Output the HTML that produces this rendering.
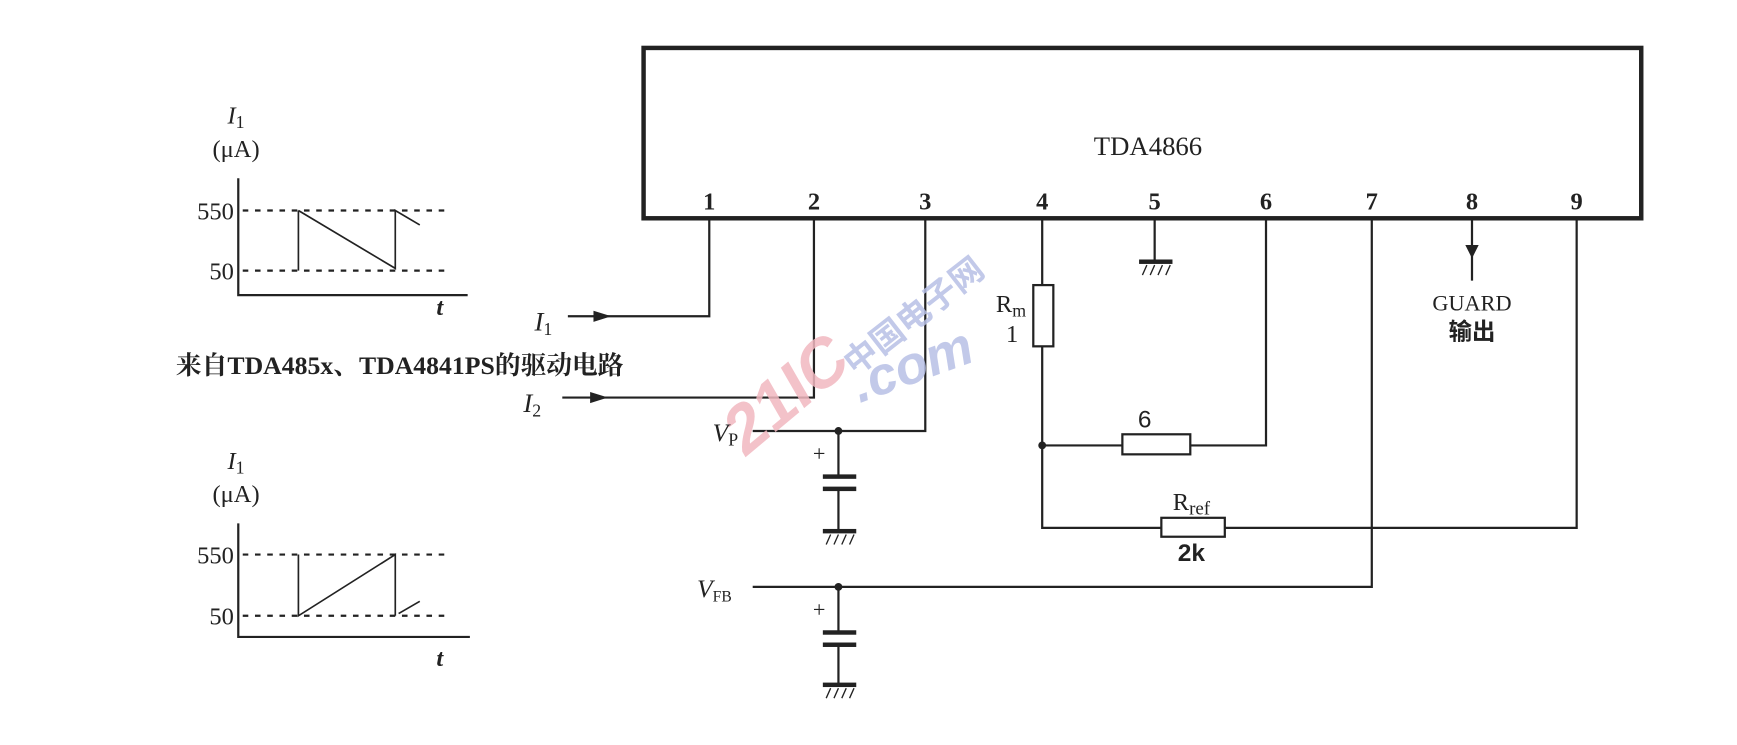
<!DOCTYPE html>
<html><head><meta charset="utf-8"><style>
html,body{margin:0;padding:0;background:#fff;}
svg{display:block}
text{font-family:"Liberation Serif","Noto Serif CJK SC",serif;fill:#222}
</style></head><body>
<svg width="1737" height="745" viewBox="0 0 1560 669" xmlns="http://www.w3.org/2000/svg">
<g stroke="#222" fill="none" stroke-width="2">
<rect x="578" y="43" width="896" height="153" stroke-width="4"/>
<polyline points="637,196 637,284 510,284"/>
<polyline points="731,196 731,357 505,357"/>
<polyline points="831,196 831,387 676,387"/>
<line x1="753" y1="387" x2="753" y2="428"/><line x1="753" y1="438" x2="753" y2="477"/>
<line x1="936" y1="196" x2="936" y2="256"/>
<rect x="928" y="256" width="18" height="55"/>
<polyline points="936,311 936,474 1043,474"/>
<line x1="936" y1="400" x2="1008" y2="400"/>
<rect x="1008" y="390" width="61" height="18"/>
<polyline points="1069,400 1137,400 1137,196"/>
<rect x="1043" y="465" width="57" height="17"/>
<polyline points="1100,474 1416,474 1416,196"/>
<line x1="1037" y1="196" x2="1037" y2="235"/>
<polyline points="1232,196 1232,527 676,527"/>
<line x1="753" y1="527" x2="753" y2="568"/><line x1="753" y1="578" x2="753" y2="615"/>
<line x1="1322" y1="196" x2="1322" y2="252"/>
<polyline points="214,160 214,265 420,265"/>
<polyline points="214,470 214,572 422,572"/>
<g stroke-dasharray="5,6">
<line x1="218" y1="189" x2="405" y2="189"/><line x1="218" y1="243" x2="405" y2="243"/>
<line x1="218" y1="498" x2="405" y2="498"/><line x1="218" y1="553" x2="405" y2="553"/>
</g>
<polyline points="268,189 268,243" stroke-width="1.5"/>
<polyline points="268,189 355,241 355,189 377,202" stroke-width="1.5"/>
<polyline points="268,498 268,553 355,498 355,553" stroke-width="1.5"/>
<line x1="358" y1="551" x2="377" y2="540" stroke-width="1.5"/>
</g>
<g fill="#222">
<rect x="739" y="426" width="30" height="4"/><rect x="739" y="437" width="30" height="4"/>
<rect x="739" y="566" width="30" height="4"/><rect x="739" y="577" width="30" height="4"/>
<rect x="739" y="475" width="30" height="4"/><rect x="739" y="613" width="30" height="4"/>
<rect x="1023" y="233" width="30" height="4"/>
<circle cx="753" cy="387" r="3.5"/><circle cx="753" cy="527" r="3.5"/><circle cx="936" cy="400" r="3.5"/>
<path d="M533,279 L549,284 L533,289Z"/><path d="M530,352 L546,357 L530,362Z"/>
<path d="M1316,220 L1328,220 L1322,232Z"/>
</g>
<g stroke="#222" stroke-width="1.2">
<path d="M742,489 l4,-9 M749,489 l4,-9 M756,489 l4,-9 M763,489 l4,-9"/>
<path d="M742,627 l4,-9 M749,627 l4,-9 M756,627 l4,-9 M763,627 l4,-9"/>
<path d="M1026,247 l4,-9 M1033,247 l4,-9 M1040,247 l4,-9 M1047,247 l4,-9"/>
</g>
<g opacity="0.85">
<text x="0" y="0" transform="translate(668,412) rotate(-40) skewX(-10)" style="font-family:'Liberation Sans',sans-serif;font-weight:bold;font-size:60px;fill:#f1b8c0">21IC</text>
<text x="0" y="0" transform="translate(772,362) rotate(-20)" style="font-family:'Liberation Sans',sans-serif;font-weight:bold;font-style:italic;font-size:48px;fill:#b8c0e6">.com</text>
<text x="0" y="0" transform="translate(768,338) rotate(-38)" style="font-family:'Noto Sans CJK SC',sans-serif;font-weight:bold;font-size:30px;fill:#b8c0e6">中国电子网</text>
</g>
<g style="font-family:'Liberation Sans',sans-serif;font-size:22px;font-weight:bold" text-anchor="middle">
<text x="1031" y="139" style="font-weight:normal;font-size:24px">TDA4866</text>
<text x="637" y="188">1</text><text x="731" y="188">2</text><text x="831" y="188">3</text>
<text x="936" y="188">4</text><text x="1037" y="188">5</text><text x="1137" y="188">6</text>
<text x="1232" y="188">7</text><text x="1322" y="188">8</text><text x="1416" y="188">9</text>
</g>
<g style="font-size:22px" text-anchor="middle">
<text x="1322" y="279" style="font-size:20px">GUARD</text>
<text x="1322" y="305" style="font-family:'Noto Sans CJK SC',sans-serif;font-weight:bold;font-size:21px">输出</text>
<text x="908" y="280">R<tspan font-size="16" dy="4">m</tspan></text>
<text x="909" y="307">1</text>
<text x="1028" y="384" style="font-family:'Liberation Sans',sans-serif">6</text>
<text x="1070" y="458">R<tspan font-size="17" dy="4">ref</tspan></text>
<text x="1070" y="504" style="font-family:'Liberation Sans',sans-serif;font-weight:bold">2k</text>
<text x="212" y="111" style="font-style:italic">I<tspan font-size="16" dy="4" font-style="normal">1</tspan></text>
<text x="212" y="141">(μA)</text>
<text x="212" y="421" style="font-style:italic">I<tspan font-size="16" dy="4" font-style="normal">1</tspan></text>
<text x="212" y="451">(μA)</text>
<text x="395" y="283" style="font-style:italic;font-weight:bold">t</text>
<text x="395" y="598" style="font-style:italic;font-weight:bold">t</text>
</g>
<g style="font-size:22px" text-anchor="end">
<text x="210" y="197">550</text><text x="210" y="251">50</text>
<text x="210" y="506">550</text><text x="210" y="561">50</text>
</g>
<text x="480" y="297" style="font-size:24px;font-style:italic">I<tspan font-size="16" dy="4" font-style="normal">1</tspan></text>
<text x="470" y="370" style="font-size:24px;font-style:italic">I<tspan font-size="16" dy="4" font-style="normal">2</tspan></text>
<text x="640" y="396" style="font-size:23px;font-style:italic">V<tspan font-size="16" dy="4" font-style="normal">P</tspan></text>
<text x="626" y="536" style="font-size:23px;font-style:italic">V<tspan font-size="14" dy="4" font-style="normal">FB</tspan></text>
<text x="730" y="414" style="font-size:20px">+</text>
<text x="730" y="554" style="font-size:20px">+</text>
<text x="158" y="336" style="font-family:'Liberation Serif','Noto Serif CJK SC',serif;font-weight:bold;font-size:23px" textLength="402" lengthAdjust="spacingAndGlyphs">来自TDA485x、TDA4841PS的驱动电路</text>
</svg>
</body></html>
